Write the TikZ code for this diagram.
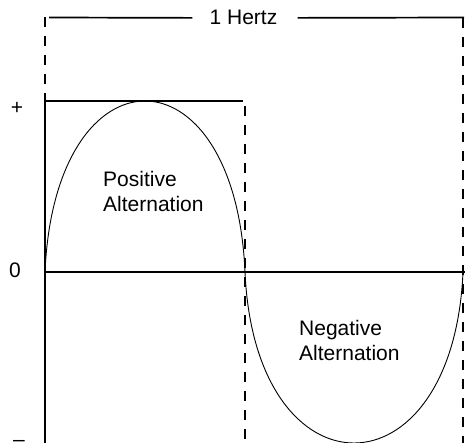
\documentclass[tikz,border=0pt]{standalone}
\usepackage{fontspec}
\setmainfont{Liberation Sans}
\tikzset{hzplot/.style={x=1pt,y=-1pt,font=\fontsize{21}{25}\selectfont},
  solidln/.style={line width=2pt},
  guide/.style={line width=2pt,dash pattern=on 10pt off 9pt},
  wave/.style={line width=0.9pt}}

\begin{document}
\begin{tikzpicture}[hzplot]
    \useasboundingbox (0,0) rectangle (470,443);
    \def\xa{45}\def\xb{245}\def\xc{463}\def\zy{272}\def\hh{228}
    % the two half cycles
    \draw[wave] (\xa,\zy) .. controls (\xa+10,\zy-\hh) and (\xb-10,\zy-\hh) .. (\xb,\zy);
    \draw[wave] (\xb,\zy) .. controls (\xb+10,\zy+\hh) and (\xc-10,\zy+\hh) .. (\xc,\zy);
    \draw[solidln] (\xa,\zy) -- (465,\zy);
    \draw[solidln] (\xa,101) -- (243,101);
    \draw[solidln,line width=2.3pt] (\xa,101) -- (\xa,443);
    \draw[guide] (\xa,17) -- (\xa,101);
    \draw[guide] (\xb,106) -- (\xb,443);
    \draw[guide] (\xc,18) -- (\xc,443);
    % period marker
    \node[anchor=base,inner sep=0] (hz) at (243.5,25) {1 Hertz};
    \draw[solidln,line width=1.7pt] (\xa+4,17.5) -- ([xshift=-17pt]hz.west);
    \draw[solidln,line width=1.7pt] ([xshift=20pt]hz.east) -- (\xc+1,17.5);
    \node[anchor=base,inner sep=0] (plus)  at (17,114.4) {+};
    \node[anchor=base,inner sep=0] (zero)  at (15,277) {0};
    \node[anchor=base,inner sep=0] (minus) at (19,446) {\textendash};
    \node[anchor=north west,align=left,inner sep=0] (pos) at (103,171) {Positive\\Alternation};
    \node[anchor=north west,align=left,inner sep=0] (neg) at (299,320) {Negative\\Alternation};
\end{tikzpicture}
\end{document}
